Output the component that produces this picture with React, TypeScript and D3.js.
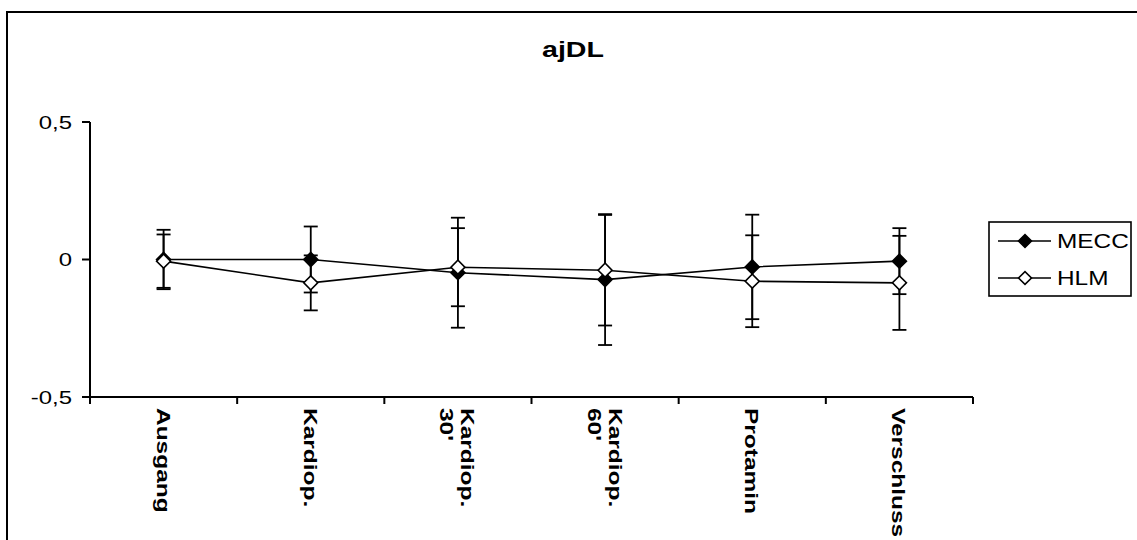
import React from "react";
import * as d3 from "d3";

const categories: string[][] = [
  ["Ausgang"],
  ["Kardiop."],
  ["Kardiop.", "30'"],
  ["Kardiop.", "60'"],
  ["Protamin"],
  ["Verschluss"],
];
const meccValues = [0, 0, -0.048, -0.073, -0.027, -0.006];
const meccErrors = [0.108, 0.12, 0.2, 0.238, 0.19, 0.12];
const hlmValues = [-0.006, -0.085, -0.028, -0.039, -0.079, -0.085];
const hlmErrors = [0.097, 0.1, 0.142, 0.201, 0.167, 0.171];
const yTicks = [-0.5, 0, 0.5];
const yTickLabels = ["-0,5", "0", "0,5"];
const seriesNames = ["MECC", "HLM"];
const title = "ajDL";

const FONT = "'Liberation Sans', Arial, sans-serif";
const SX = 1.3;

export default function App() {
  const W = 1137;
  const H = 540;
  const left = 90;
  const right = 973;
  const top = 122;
  const bottom = 397;

  const x = d3
    .scaleBand<number>()
    .domain(categories.map((_, i) => i))
    .range([left, right])
    .paddingInner(0)
    .paddingOuter(0);
  const y = d3.scaleLinear().domain([-0.5, 0.5]).range([bottom, top]);
  const cx = (i: number) => (x(i) as number) + x.bandwidth() / 2;

  const line = d3
    .line<number>()
    .x((_, i) => cx(i))
    .y((d) => y(d));

  const diamond = d3.symbol(d3.symbolSquare, 98)() as string;

  const series = [
    { name: seriesNames[0], values: meccValues, errors: meccErrors, fill: "#000" },
    { name: seriesNames[1], values: hlmValues, errors: hlmErrors, fill: "#fff" },
  ];

  const boundaries = d3.range(categories.length + 1).map((i) =>
    i < categories.length ? (x(i) as number) : right
  );

  return (
    <svg
      width={W}
      height={H}
      style={{ position: "absolute", left: 0, top: 0, background: "#fff" }}
      fontFamily={FONT}
    >
      <rect x={0} y={0} width={W} height={H} fill="#fff" />
      {/* outer chart border */}
      <rect x={7} y={12} width={W + 20} height={H + 20} fill="none" stroke="#000" strokeWidth={2} />

      {/* title */}
      <text
        transform={`translate(573,57) scale(${SX},1)`}
        textAnchor="middle"
        fontSize={22}
        fontWeight="bold"
      >
        {title}
      </text>

      {/* y axis */}
      <line x1={left} x2={left} y1={top} y2={bottom} stroke="#000" strokeWidth={2} />
      {yTicks.map((t, i) => (
        <g key={"yt" + i}>
          <line x1={left - 8} x2={left} y1={y(t)} y2={y(t)} stroke="#000" strokeWidth={2} />
          <text
            transform={`translate(${left - 18},${y(t)}) scale(1.26,1)`}
            textAnchor="end"
            dominantBaseline="central"
            fontSize={19}
          >
            {yTickLabels[i]}
          </text>
        </g>
      ))}

      {/* x axis */}
      <line x1={left} x2={right} y1={bottom} y2={bottom} stroke="#000" strokeWidth={2} />
      {boundaries.map((b, i) => (
        <line key={"xt" + i} x1={b} x2={b} y1={bottom} y2={bottom + 7} stroke="#000" strokeWidth={2} />
      ))}
      {categories.map((lines, i) => {
        const n = lines.length;
        const lh = 21;
        return lines.map((t, j) => {
          const base = cx(i) - 7 + ((n - 1) * lh) / 2 - j * lh;
          return (
            <text
              key={"xl" + i + "-" + j}
              transform={`translate(${base},${bottom + 11}) rotate(90) scale(1.36,1)`}
              textAnchor="start"
              fontSize={18}
              fontWeight="bold"
            >
              {t}
            </text>
          );
        });
      })}

      {/* series */}
      {series.map((s, si) => (
        <g key={"s" + si}>
          <path d={line(s.values) as string} fill="none" stroke="#000" strokeWidth={1.6} />
          {s.values.map((v, i) => {
            const e = s.errors[i];
            const px = cx(i);
            return (
              <g key={"eb" + i} stroke="#000" strokeWidth={1.8}>
                <line x1={px} x2={px} y1={y(v + e)} y2={y(v - e)} />
                <line x1={px - 7} x2={px + 7} y1={y(v + e)} y2={y(v + e)} />
                <line x1={px - 7} x2={px + 7} y1={y(v - e)} y2={y(v - e)} />
              </g>
            );
          })}
        </g>
      ))}
      {series.map((s, si) => (
        <g key={"m" + si}>
          {s.values.map((v, i) => (
            <path
              key={"mk" + i}
              d={diamond}
              transform={`translate(${cx(i)},${y(v)}) rotate(45)`}
              fill={s.fill}
              stroke="#000"
              strokeWidth={1.6}
            />
          ))}
        </g>
      ))}

      {/* legend */}
      <rect x={989} y={222} width={142} height={74} fill="#fff" stroke="#000" strokeWidth={1.6} />
      {series.map((s, si) => {
        const ly = 241 + si * 37;
        return (
          <g key={"lg" + si}>
            <line x1={998} x2={1051} y1={ly} y2={ly} stroke="#000" strokeWidth={1.6} />
            <path
              d={d3.symbol(d3.symbolSquare, 84)() as string}
              transform={`translate(1025,${ly}) rotate(45)`}
              fill={s.fill}
              stroke="#000"
              strokeWidth={1.6}
            />
            <text
              transform={`translate(1057,${ly}) scale(1.22,1)`}
              dominantBaseline="central"
              fontSize={20}
            >
              {s.name}
            </text>
          </g>
        );
      })}
    </svg>
  );
}
